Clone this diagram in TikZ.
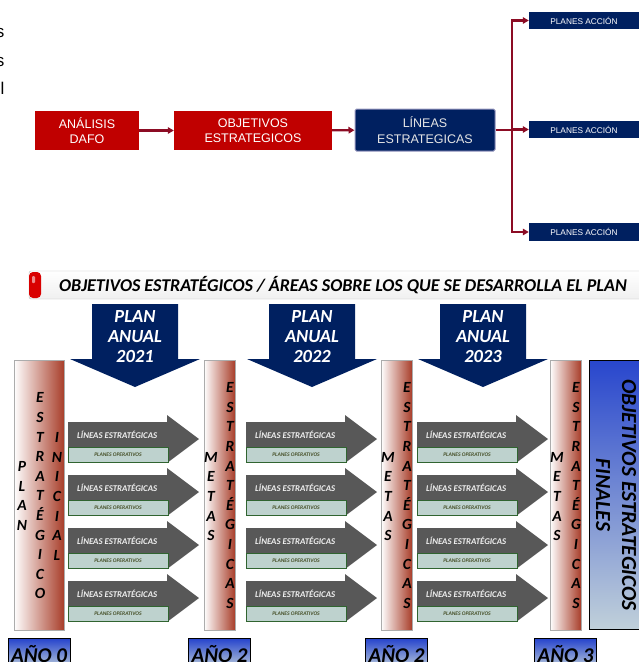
\documentclass[tikz,border=0pt]{standalone}
\usepackage{fontspec}
\setmainfont{Carlito}
\newfontfamily\arialf{Liberation Sans}
\usetikzlibrary{arrows.meta, positioning, calc}
\newcommand{\fsz}[2]{\fontsize{#1}{#2}\selectfont}
\definecolor{clrRed}    {RGB}{192,  0,  0}
\definecolor{clrNavy}   {RGB}{  0, 32, 96}
\definecolor{clrLila}   {RGB}{150,150,190}
\definecolor{clrLink}   {RGB}{140, 12, 36}
\definecolor{clrBrn}    {RGB}{168, 62, 42}
\definecolor{clrArr}    {RGB}{ 88, 88, 88}
\definecolor{clrPale}   {RGB}{190,210,206}
\definecolor{clrPaleBdr}{RGB}{ 48,100, 48}
\definecolor{clrOliva}  {RGB}{ 70, 80, 40}
\definecolor{clrBlue}   {RGB}{ 40, 70,205}
\definecolor{clrMist}   {RGB}{192,208,218}
\tikzset{
  redbox/.style={rectangle, fill=clrRed, text=white, font=\arialf\fsz{12.5}{15.5},
    align=center, minimum height=39, inner sep=0pt},
  navybox/.style={rectangle, rounded corners=1.5pt, fill=clrNavy, draw=clrLila, line width=1pt,
    text=gray!20, font=\arialf\fsz{12.5}{15.5}, align=center, minimum width=140,
    minimum height=42, inner sep=0pt},
  accbox/.style={rectangle, fill=clrNavy, text=white, font=\arialf\fsz{8.3}{10},
    minimum width=110, minimum height=17.5, inner sep=0pt},
  link/.style={-{Triangle[length=6pt,width=6.5pt]}, line width=2.2pt, color=clrLink},
  banner/.style={rectangle, rounded corners=2pt, draw=gray!55, top color=white, bottom color=gray!12,
    minimum width=628, minimum height=28, inner sep=0pt, font=\bfseries\itshape\fsz{18}{20}},
  tapa/.style={rectangle, rounded corners=4pt, fill=red!85!black, minimum width=12,
    minimum height=26, inner sep=0pt},
  anual/.style={text=white, font=\bfseries\itshape\fsz{18.5}{20}, align=center, inner sep=0pt},
  colbox/.style={rectangle, draw=gray!65, line width=0.8pt, left color=white, right color=clrBrn,
    minimum height=270, inner sep=0pt},
  letras/.style={font=\bfseries\itshape\fsz{15.5}{19.6}, align=center, inner sep=0pt},
  lineatxt/.style={font=\bfseries\itshape\fsz{8.8}{10}, text=gray!12, anchor=west, inner sep=0pt},
  opbox/.style={rectangle, fill=clrPale, draw=clrPaleBdr, line width=0.8pt, minimum width=100,
    minimum height=15, inner sep=0pt, font=\bfseries\itshape\fsz{5.5}{6}, text=clrOliva},
  finbox/.style={rectangle, draw=black, line width=1pt, top color=clrBlue, bottom color=clrMist,
    minimum width=56, minimum height=269, inner sep=0pt},
  anio/.style={rectangle, draw=black, line width=1pt, top color=clrBlue, bottom color=clrMist,
    minimum width=62, minimum height=30, inner sep=0pt, font=\bfseries\itshape\fsz{21}{24}},
}
\begin{document}
\begin{tikzpicture}[x=1pt,y=-1pt]
\useasboundingbox (0,0) rectangle (638,662);
% restos de texto cortados a la izquierda
\node[font=\arialf\fsz{17}{20}, anchor=east, inner sep=0pt] (frag1) at (4.5,33) {s};
\node[font=\arialf\fsz{17}{20}, anchor=east, inner sep=0pt] (frag2) at (4.5,62) {s};
\node[font=\arialf\fsz{17}{20}, anchor=east, inner sep=0pt] (frag3) at (4.5,88) {l};
% cadena superior
\node[redbox, minimum width=104] (dafo) at (87,130.5) {ANÁLISIS\\DAFO};
\node[redbox, minimum width=158] (objest) at (253,130.5) {OBJETIVOS\\ESTRATEGICOS};
\node[navybox] (lineas) at (425,130) {LÍNEAS\\ESTRATEGICAS};
\node[accbox] (acc1) at (584,20.5) {PLANES ACCIÓN};
\node[accbox] (acc2) at (584,129.5) {PLANES ACCIÓN};
\node[accbox] (acc3) at (584,232) {PLANES ACCIÓN};
\coordinate (reparto) at (512,130);
\draw[link] (dafo) -- (objest);
\draw[link] (objest) -- (lineas);
\draw[link,-] (lineas) -- (reparto);
\foreach \k in {1,2,3} \draw[link] (reparto) |- (acc\k);
% barra de titulo
\node[banner] (titulo) at (343,285) {OBJETIVOS ESTRATÉGICOS / ÁREAS SOBRE LOS QUE SE DESARROLLA EL PLAN};
\node[tapa] (tapa) at (35,285) {};
\fill[white,opacity=0.55,rounded corners=1pt] (32,276) rectangle (35,283);
% flechas de plan anual
\foreach \cx/\yr in {135/2021, 312/2022, 483/2023} {
  \fill[clrNavy] (\cx-43,304) -- (\cx+43,304) -- (\cx+43,359) -- (\cx+65,359) -- (\cx,387)
    -- (\cx-65,359) -- (\cx-43,359) -- cycle;
  \node[anual] (plan\yr) at (\cx,337) {PLAN\\ANUAL\\\yr};
}
% columnas
\node[colbox, minimum width=50] (col0) at (39,495) {};
\node[letras] (plan) at (22,496) {P\\L\\A\\N};
\node[letras] (estrat) at (40,496) {E\\S\\T\\R\\A\\T\\É\\G\\I\\C\\O};
\node[letras] (inicial) at (57,496.5) {I\\N\\I\\C\\I\\A\\L};
\foreach \i/\xl in {1/204, 2/381, 3/550} {
  \node[colbox, minimum width=31] (col\i) at (\xl+15.5,495) {};
  \node[letras] (metas\i) at (\xl+7,496.5) {M\\E\\T\\A\\S};
  \node[letras] (estr\i) at (\xl+26,495.5) {E\\S\\T\\R\\A\\T\\É\\G\\I\\C\\A\\S};
}
% flechas grises con lineas y planes
\foreach \s/\xo in {1/68, 2/246, 3/417} {
  \foreach \r/\ty in {1/438, 2/491, 3/544, 4/597} {
    \fill[clrArr] (\xo,\ty-16) -- (\xo+99,\ty-16) -- (\xo+99,\ty-23) -- (\xo+131,\ty+1)
      -- (\xo+99,\ty+25) -- (\xo+99,\ty+18) -- (\xo,\ty+18) -- cycle;
    \node[lineatxt] (le\s\r) at (\xo+9,\ty-3) {LÍNEAS ESTRATÉGICAS};
    \node[opbox] (po\s\r) at (\xo+50,\ty+16.5) {PLANES OPERATIVOS};
  }
}
% objetivos finales
\node[finbox] (finales) at (617,494.5) {};
\node[rotate=-90, align=center, inner sep=0pt, font=\bfseries\itshape\fsz{21.5}{26}] (fintxt)
  at (616,495) {OBJETIVOS ESTRATEGICOS\\FINALES};
% etiquetas de año
\node[anio, below=8pt of col0] (anio0) {AÑO 0};
\node[anio, below=8pt of col1] (anio1) {AÑO 2};
\node[anio, below=8pt of col2] (anio2) {AÑO 2};
\node[anio, below=8pt of col3] (anio3) {AÑO 3};
\end{tikzpicture}
\end{document}
